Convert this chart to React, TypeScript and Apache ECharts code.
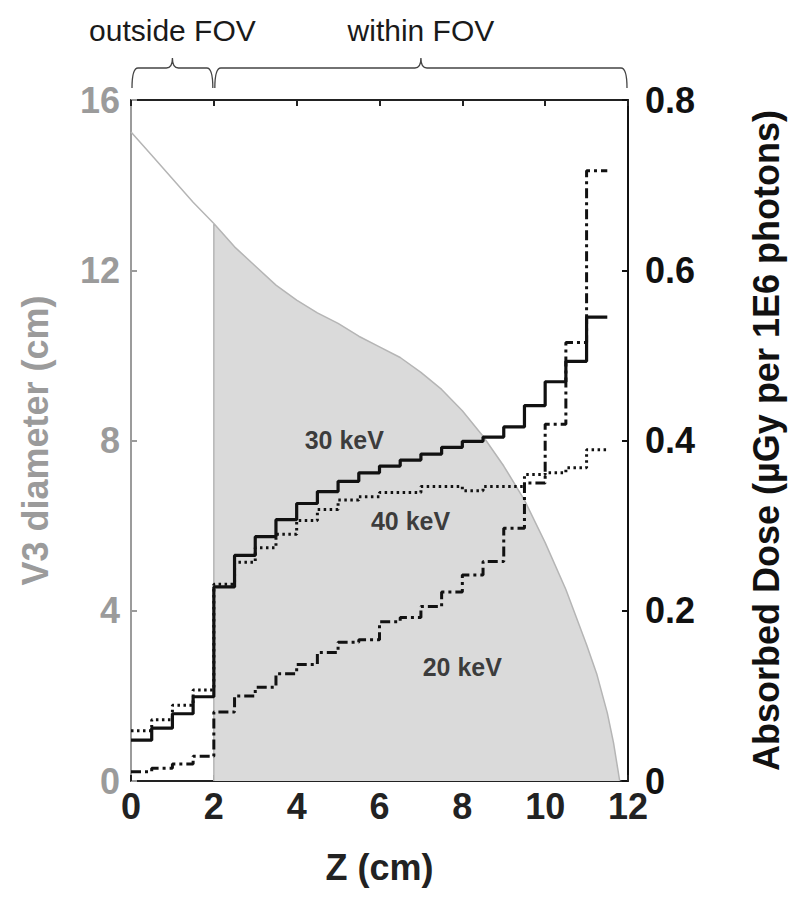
import React, { useEffect, useRef } from "react";
import * as echarts from "echarts";

// Bin left edges (cm) and final edge
const binEdges = [0, 0.5, 1, 1.5, 2, 2.5, 3, 3.5, 4, 4.5, 5, 5.5, 6, 6.5, 7, 7.5, 8, 8.5, 9, 9.5, 10, 10.5, 11, 11.5];

// Absorbed dose per bin (µGy per 1E6 photons)
const dose30 = [0.048, 0.062, 0.079, 0.099, 0.228, 0.265, 0.287, 0.307, 0.326, 0.340, 0.352, 0.362, 0.370, 0.377, 0.384, 0.392, 0.399, 0.404, 0.416, 0.441, 0.469, 0.493, 0.545];
const dose40 = [0.059, 0.072, 0.089, 0.107, 0.231, 0.257, 0.274, 0.290, 0.306, 0.319, 0.330, 0.334, 0.339, 0.339, 0.346, 0.346, 0.341, 0.346, 0.346, 0.360, 0.362, 0.368, 0.389];
const dose20 = [0.011, 0.015, 0.020, 0.029, 0.081, 0.100, 0.110, 0.126, 0.137, 0.151, 0.163, 0.166, 0.187, 0.192, 0.205, 0.222, 0.242, 0.258, 0.297, 0.350, 0.419, 0.515, 0.717];

// V3 diameter profile (cm)
const diamZOutside = [0, 0.5, 1, 1.5, 2];
const diamOutside = [15.25, 14.7, 14.15, 13.6, 13.1];
const diamZWithin = [2, 2, 2.5, 3, 3.5, 4, 4.5, 5, 5.5, 6, 6.5, 7, 7.5, 8, 8.5, 9, 9.5, 10, 10.5, 11, 11.25, 11.5, 11.65, 11.75, 11.8];
const diamWithin = [0, 13.1, 12.55, 12.1, 11.65, 11.3, 11.0, 10.75, 10.45, 10.2, 9.95, 9.6, 9.2, 8.7, 8.1, 7.4, 6.6, 5.6, 4.5, 3.2, 2.5, 1.6, 0.9, 0.3, 0];

// Series labels
const labelNames = ["30 keV", "40 keV", "20 keV"];
const labelZ = [5.15, 6.75, 8.0];
const labelDose = [0.401, 0.305, 0.134];

// Region braces
const braceStart = [0, 2];
const braceEnd = [2, 12];
const braceMid = [1, 7];
const braceNames = ["outside FOV", "within FOV"];

const xTicks = { min: 0, max: 12, interval: 2 };
const leftTicks = { min: 0, max: 16, interval: 4 };
const rightTicks = { min: 0, max: 0.8, interval: 0.2 };

const FONT = "'Liberation Sans', Arial, Helvetica, sans-serif";

function stepData(vals: number[]) {
  const d: number[][] = vals.map((v, i) => [binEdges[i], v]);
  d.push([binEdges[vals.length], vals[vals.length - 1]]);
  return d;
}

export default function App() {
  const ref = useRef<HTMLDivElement>(null);
  useEffect(() => {
    if (!ref.current) return;
    const chart = echarts.init(ref.current, null, { renderer: "svg" });
    const grey = "#9b9b9b";
    const option: any = {
      animation: false,
      backgroundColor: "#ffffff",
      grid: { left: 123, right: 161, top: 92, bottom: 120 },
      xAxis: [
        {
          type: "value",
          ...xTicks,
          position: "bottom",
          name: "Z (cm)",
          nameLocation: "middle",
          nameGap: 68,
          nameTextStyle: { fontFamily: FONT, fontWeight: "bold", fontSize: 36, color: "#222" },
          axisLine: { onZero: false, lineStyle: { color: "#222", width: 2 } },
          axisTick: { inside: true, length: 6, lineStyle: { color: "#222", width: 2 } },
          axisLabel: { fontFamily: FONT, fontWeight: "bold", fontSize: 36, color: "#222", margin: 7 },
          splitLine: { show: false },
        },
        {
          type: "value",
          ...xTicks,
          position: "top",
          axisLine: { onZero: false, lineStyle: { color: "#222", width: 2 } },
          axisTick: { inside: true, length: 6, lineStyle: { color: "#222", width: 2 } },
          axisLabel: { show: false },
          splitLine: { show: false },
        },
      ],
      yAxis: [
        {
          type: "value",
          ...leftTicks,
          position: "left",
          name: "V3 diameter (cm)",
          nameLocation: "middle",
          nameGap: 78,
          nameTextStyle: { fontFamily: FONT, fontWeight: "bold", fontSize: 36, color: grey },
          axisLine: { onZero: false, lineStyle: { color: grey, width: 2 } },
          axisTick: { inside: true, length: 6, lineStyle: { color: grey, width: 2 } },
          axisLabel: { fontFamily: FONT, fontWeight: "bold", fontSize: 36, color: grey, margin: 11 },
          splitLine: { show: false },
        },
        {
          type: "value",
          ...rightTicks,
          position: "right",
          name: "Absorbed Dose (µGy per 1E6 photons)",
          nameLocation: "middle",
          nameGap: 120,
          nameRotate: 90,
          nameTextStyle: { fontFamily: FONT, fontWeight: "bold", fontSize: 36, color: "#111" },
          axisLine: { onZero: false, lineStyle: { color: "#111", width: 2 } },
          axisTick: { inside: true, length: 6, lineStyle: { color: "#111", width: 2 } },
          axisLabel: {
            fontFamily: FONT,
            fontWeight: "bold",
            fontSize: 36,
            color: "#111",
            margin: 17,
            formatter: (v: number) => (v === 0 ? "0" : v.toFixed(1)),
          },
          splitLine: { show: false },
        },
      ],
      series: [
        {
          type: "line",
          xAxisIndex: 0,
          yAxisIndex: 0,
          data: diamZOutside.map((z, i) => [z, diamOutside[i]]),
          showSymbol: false,
          symbol: "none",
          lineStyle: { color: "#b5b5b5", width: 1.5 },
          z: 1,
        },
        {
          type: "line",
          xAxisIndex: 0,
          yAxisIndex: 0,
          data: diamZWithin.map((z, i) => [z, diamWithin[i]]),
          showSymbol: false,
          symbol: "none",
          lineStyle: { color: "#b5b5b5", width: 1.5 },
          areaStyle: { color: "#dadada", opacity: 1 },
          z: 1,
        },
        {
          type: "line",
          yAxisIndex: 1,
          step: "end",
          data: stepData(dose20),
          symbol: "none",
          lineStyle: { color: "#111", width: 3, type: [10, 4, 3, 4] },
          z: 3,
        },
        {
          type: "line",
          yAxisIndex: 1,
          step: "end",
          data: stepData(dose40),
          symbol: "none",
          lineStyle: { color: "#111", width: 3, type: [2.5, 3.5] },
          z: 3,
        },
        {
          type: "line",
          yAxisIndex: 1,
          step: "end",
          data: stepData(dose30),
          symbol: "none",
          lineStyle: { color: "#111", width: 3.2 },
          z: 4,
        },
        {
          type: "scatter",
          yAxisIndex: 1,
          data: labelZ.map((z, i) => [z, labelDose[i]]),
          symbolSize: 1,
          itemStyle: { color: "rgba(0,0,0,0)" },
          label: {
            show: true,
            position: "inside",
            formatter: (p: any) => labelNames[p.dataIndex],
            fontFamily: FONT,
            fontWeight: "bold",
            fontSize: 25,
            color: "#111",
          },
          z: 5,
        },
        {
          type: "custom",
          xAxisIndex: 0,
          yAxisIndex: 0,
          clip: false,
          silent: true,
          data: braceStart.map((s, i) => [s, braceEnd[i], braceMid[i]]),
          encode: { x: [0, 1, 2] },
          renderItem: (params: any, api: any) => {
            const i = params.dataIndex;
            const top = api.coord([0, leftTicks.max])[1];
            const x1 = api.coord([braceStart[i], leftTicks.max])[0] + 1;
            const x2 = api.coord([braceEnd[i], leftTicks.max])[0] - 1;
            const xm = api.coord([braceMid[i], leftTicks.max])[0];
            const yEnd = top - 12;
            const yH = top - 32;
            const yC = top - 42;
            const r = 6;
            const d =
              `M${x1},${yEnd} Q${x1},${yH} ${x1 + r},${yH} L${xm - r},${yH} ` +
              `Q${xm},${yH} ${xm},${yC} Q${xm},${yH} ${xm + r},${yH} ` +
              `L${x2 - r},${yH} Q${x2},${yH} ${x2},${yEnd}`;
            return {
              type: "group",
              children: [
                {
                  type: "path",
                  shape: { pathData: d },
                  style: { fill: "none", stroke: "#444", lineWidth: 1.3 },
                },
                {
                  type: "text",
                  style: {
                    text: braceNames[i],
                    x: xm,
                    y: top - 70,
                    align: "center",
                    verticalAlign: "middle",
                    fontFamily: FONT,
                    fontSize: 30,
                    fill: "#1a1a1a",
                  },
                },
              ],
            };
          },
          z: 6,
        },
      ],
    };
    chart.setOption(option);
    return () => chart.dispose();
  }, []);
  return <div ref={ref} style={{ width: 784, height: 893 }} />;
}
